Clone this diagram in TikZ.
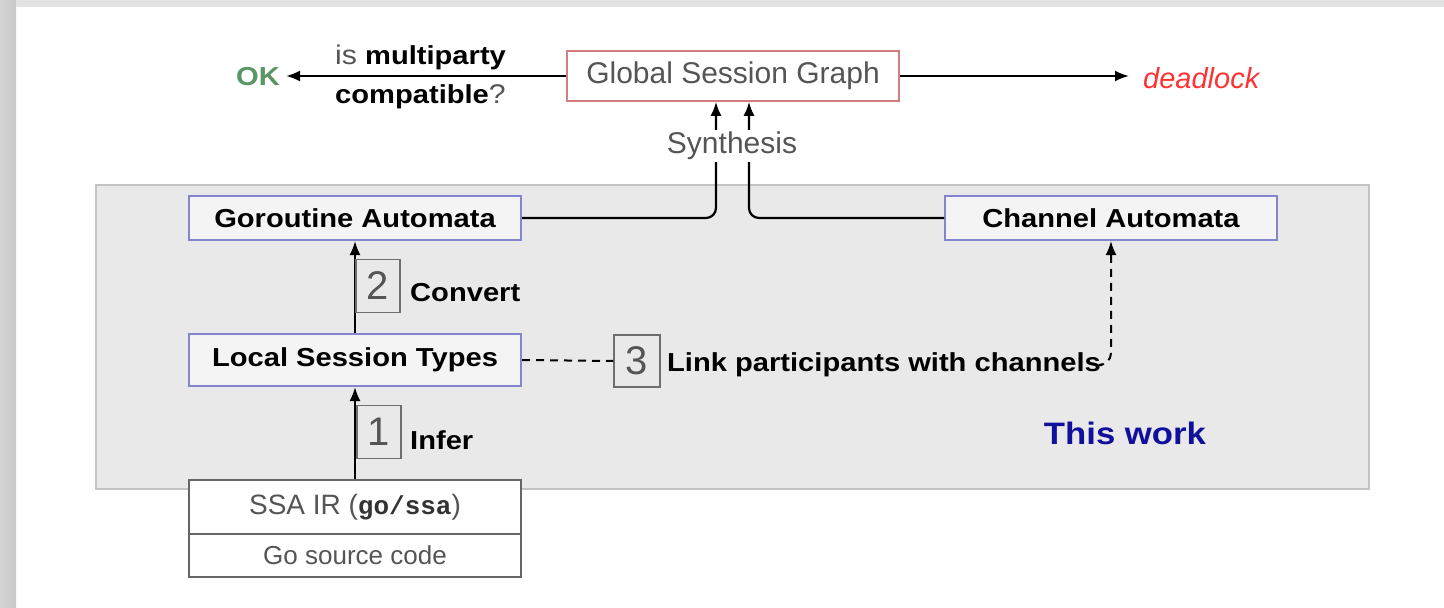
\documentclass[tikz,border=0pt]{standalone}
\usepackage{fontspec}
\setmainfont{Liberation Sans}
\setmonofont{Liberation Mono}
\newfontfamily\labfont[FakeStretch=1.12]{Liberation Sans}
\usetikzlibrary{arrows.meta,calc}

\definecolor{stripleft}{HTML}{D4D4D4}
\definecolor{stripright}{HTML}{C8C8C8}
\definecolor{striptop}{HTML}{E3E3E3}
\definecolor{workfill}{HTML}{E9E9E9}
\definecolor{workedge}{HTML}{C4C4C4}
\definecolor{boxblue}{HTML}{8585CF}
\definecolor{boxfill}{HTML}{F4F4F4}
\definecolor{graphedge}{HTML}{D27E7E}
\definecolor{okgreen}{HTML}{5A9664}
\definecolor{deadred}{HTML}{FF3333}
\definecolor{workblue}{HTML}{10109C}
\definecolor{lighttext}{HTML}{555555}
\definecolor{numedge}{HTML}{6E6E6E}
\definecolor{iredge}{HTML}{666666}

\begin{document}
\begin{tikzpicture}[x=1pt,y=-1pt,
  stage/.style={draw=boxblue, line width=2pt, fill=boxfill, minimum width=332pt,
    inner sep=0pt, text=black, font=\labfont\bfseries\fontsize{26}{30}\selectfont},
  irbox/.style={draw=iredge, line width=2pt, fill=white, minimum width=332pt,
    inner sep=0pt, text=lighttext},
  numbox/.style={draw=numedge, line width=1.5pt, fill=workfill, minimum width=44pt,
    minimum height=53pt, inner sep=0pt, text=lighttext,
    font=\fontsize{40}{40}\selectfont},
  steplabel/.style={anchor=west, inner sep=1pt, text=black,
    font=\labfont\bfseries\fontsize{26}{30}\selectfont},
  arr/.style={line width=2.2pt, -{Latex[length=14pt,width=11pt]}},
  dasharr/.style={line width=2pt, dash pattern=on 8pt off 6pt,
    -{Latex[length=14pt,width=11pt]}},
  lightfont/.style={font=\fontsize{30}{34}\selectfont, text=lighttext}
]
\useasboundingbox (0,0) rectangle (1444,608);

% page frame
\fill[white] (0,0) rectangle (1444,608);
\shade[left color=stripleft, right color=stripright] (0,0) rectangle (16,608);
\fill[striptop] (16,0) rectangle (1444,7);

% region of the tool's own work
\node[draw=workedge, fill=workfill, line width=2pt, minimum width=1273pt,
  minimum height=304pt, inner sep=0pt] (work) at (732.5,337) {};
\node[font=\labfont\bfseries\fontsize{31}{34}\selectfont, text=workblue,
  inner sep=0pt] (tw) at (1125,433) {This work};

% stages
\node[stage, minimum height=44pt] (ga) at (355,218) {Goroutine Automata};
\node[stage, minimum height=44pt] (ca) at (1111,218) {Channel Automata};
\node[stage, minimum height=52pt] (lst) at (355,360) {Local Session Types};

\node[irbox, minimum height=54pt, font=\fontsize{28}{32}\selectfont] (ssa) at (355,507)
  {SSA IR ({\fontsize{26}{30}\selectfont\ttfamily\bfseries\textcolor{black!80}{go/ssa}})};
\node[irbox, minimum height=43pt, font=\fontsize{26}{30}\selectfont] (src) at (355,555.5)
  {Go source code};

% global graph and verdicts
\node[draw=graphedge, line width=1.6pt, fill=white, minimum width=332pt,
  minimum height=50pt, inner sep=0pt, lightfont] (gsg) at (733,76)
  {Global Session Graph};
\node[font=\labfont\bfseries\fontsize{26}{30}\selectfont, text=okgreen,
  inner sep=0pt] (ok) at (258,77) {OK};
\node[font=\itshape\fontsize{29}{32}\selectfont, text=deadred, inner sep=0pt,
  anchor=west] (dl) at (1143,78) {deadlock};
\node[anchor=west, inner sep=0pt, text=black,
  font=\labfont\bfseries\fontsize{26}{30}\selectfont] (q1) at (335,57)
  {\textcolor{lighttext}{\mdseries\fontsize{27}{30}\selectfont is} multiparty};
\node[anchor=west, inner sep=0pt, text=black,
  font=\labfont\bfseries\fontsize{26}{30}\selectfont] (q2) at (335,97)
  {compatible\textcolor{lighttext}{\mdseries\fontsize{27}{30}\selectfont ?}};

% verdict arrows stay level with the graph box
\coordinate (oktip) at ($(ok.east |- gsg.west)+(6,0)$);
\coordinate (dltip) at ($(dl.west |- gsg.east)+(-14,0)$);
\draw[arr] (gsg.west) -- (oktip);
\draw[arr] (gsg.east) -- (dltip);

% synthesis of the global graph
\draw[arr, rounded corners=10pt] (ga.east) -| ([xshift=-17pt]gsg.south);
\draw[arr, rounded corners=10pt] (ca.west) -| ([xshift=16pt]gsg.south);
\node[fill=white, inner sep=2pt, lightfont] (syn) at (732,146) {Synthesis};

% pipeline steps
\draw[arr] (ssa.north) -- (lst.south);
\draw[arr] (lst.north) -- (ga.south);
\node[numbox] (n1) at (379,432) {1};
\node[steplabel] (infer) at (409,440) {Infer};
\node[numbox] (n2) at (378,286) {2};
\node[steplabel] (conv) at (409,293) {Convert};

\node[numbox, minimum width=46pt, minimum height=52pt] (n3) at (637,361) {3};
\node[steplabel] (link) at (666,365) {Link participants with channels};
\draw[line width=2pt, dash pattern=on 8pt off 6pt] (lst.east) -- (n3.west);
\draw[dasharr, rounded corners=12pt] (link.east) -| (ca.south);
\end{tikzpicture}
\end{document}
